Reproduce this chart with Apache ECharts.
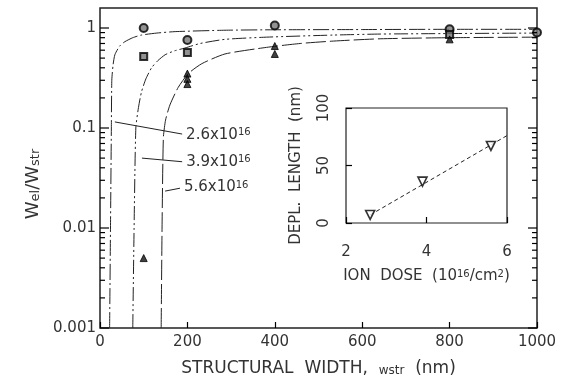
<!DOCTYPE html>
<html lang="en">
<head>
    <meta charset="UTF-8">
    <title>Wel/Wstr vs structural width</title>
    <style>
        html, body { margin: 0; padding: 0; background: #fff; }
        #main { width: 565px; height: 385px; }
    </style>
</head>
<body>
    <div id="main"></div>
    <script src="https://cdn.jsdelivr.net/npm/echarts@6/dist/echarts.min.js"></script>
    <script>
        // fitted curves, one per ion dose (structural width nm, Wel/Wstr)
        var curveLow = [[22,0.001],[24,0.01],[26,0.1],[27,0.3],[30,0.43],[34,0.54],[45,0.66],[57,0.73],[75,0.8],[95,0.85],[130,0.89],[172,0.92],[286,0.95],[400,0.96],[600,0.965],[800,0.97],[1000,0.97]];
        var curveMid = [[75,0.001],[78,0.01],[82,0.1],[88,0.16],[95,0.23],[105,0.31],[118,0.4],[132,0.47],[149,0.54],[170,0.59],[194,0.63],[229,0.7],[286,0.77],[381,0.81],[534,0.85],[641,0.87],[800,0.88],[1000,0.89]];
        var curveHigh = [[140,0.001],[142,0.01],[145,0.08],[150,0.12],[160,0.17],[179,0.255],[202,0.35],[233,0.44],[286,0.55],[381,0.64],[458,0.7],[534,0.74],[641,0.78],[800,0.8],[1000,0.81]];

        // measured points
        var dotsLow = [[100,1.0],[200,0.76],[400,1.06],[800,0.97],[1000,0.9]];
        var dotsMid = [[100,0.52],[200,0.57],[800,0.86]];
        var dotsHigh = [[100,0.005],[200,0.35],[200,0.31],[200,0.275],[400,0.66],[400,0.55],[800,0.77]];

        var doseLabels = ['2.6', '3.9', '5.6'];
        // leader lines from curve to dose label
        var leaders = [
            [[34, 0.115], [188, 0.087]],
            [[96, 0.05], [188, 0.046]],
            [[149, 0.0234], [183, 0.025]]
        ];

        var yTickLabels = { '-3': '0.001', '-2': '0.01', '-1': '0.1', '0': '1' };
        var decadeTicks = [0.001, 0.01, 0.1, 1];
        var minorFactors = [2, 3, 4, 5, 6, 7, 8, 9];
        var decades = [0.001, 0.01, 0.1];

        // inset: depletion length vs ion dose
        var doseX = [2.6, 3.9, 5.6];
        var deplLength = [7, 36, 67];
        var fitLine = [[2.6, 7], [6, 76]];

        var ink = '#222';
        var txt = '#333';

        // log ticks on both frame edges: [edge x, value, tick length]
        var logTicks = [];
        decadeTicks.forEach(function (d) {
            logTicks.push([0, d, 9]);
            logTicks.push([1000, d, 9]);
        });
        decades.forEach(function (d) {
            minorFactors.forEach(function (f) {
                logTicks.push([0, f * d, 5]);
                logTicks.push([1000, f * d, 5]);
            });
        });

        function leaderLine(i) {
            return {
                silent: true,
                symbol: ['none', 'none'],
                lineStyle: { color: ink, width: 1, type: 'solid' },
                label: {
                    show: true,
                    position: 'end',
                    distance: 4,
                    formatter: '{b|' + doseLabels[i] + 'x10}{s|16}',
                    rich: {
                        b: { fontSize: 15, color: txt, fontFamily: 'DejaVu Sans' },
                        s: { fontSize: 10, color: txt, fontFamily: 'DejaVu Sans', verticalAlign: 'top' }
                    }
                },
                data: [[{ coord: leaders[i][0] }, { coord: leaders[i][1] }]]
            };
        }

        var mychart = echarts.init(document.getElementById('main'));

        var option = {
            animation: false,
            backgroundColor: '#fff',
            textStyle: { fontFamily: 'DejaVu Sans', color: txt },
            grid: [
                { left: 100, top: 8, right: 28, bottom: 57, show: true, borderColor: ink, borderWidth: 1.5 },
                { left: 346, top: 108, width: 161, height: 115, show: true, borderColor: ink, borderWidth: 1.2, backgroundColor: '#fff' }
            ],
            xAxis: [
                {
                    gridIndex: 0, type: 'value', min: 0, max: 1000, interval: 200,
                    axisLine: { show: false },
                    axisTick: { inside: true, length: 6, lineStyle: { color: '#000', width: 1.2 } },
                    splitLine: { show: false },
                    axisLabel: { fontSize: 15, color: txt, margin: 7, formatter: function (v) { return String(v); } },
                    name: '{a|STRUCTURAL  WIDTH,  }{s|wstr}{a|  (nm)}',
                    nameLocation: 'middle', nameGap: 32,
                    nameTextStyle: {
                        rich: {
                            a: { fontSize: 17, color: txt },
                            s: { fontSize: 12, color: txt, verticalAlign: 'bottom' }
                        }
                    }
                },
                {
                    gridIndex: 1, type: 'value', min: 2, max: 6, interval: 2,
                    axisLine: { show: false },
                    axisTick: { inside: true, length: 6, lineStyle: { color: '#000', width: 1.2 } },
                    splitLine: { show: false },
                    axisLabel: { fontSize: 15, color: txt, margin: 22 },
                    name: '{a|ION  DOSE  (10}{s|16}{a|/cm}{s|2}{a|)}',
                    nameLocation: 'middle', nameGap: 46,
                    nameTextStyle: {
                        rich: {
                            a: { fontSize: 15, color: txt },
                            s: { fontSize: 10, color: txt, verticalAlign: 'top' }
                        }
                    }
                }
            ],
            yAxis: [
                {
                    gridIndex: 0, type: 'log', logBase: 10, min: 0.001, max: 1.585,
                    axisLine: { show: false },
                    axisTick: { show: false },
                    splitLine: { show: false },
                    axisLabel: {
                        fontSize: 15, color: txt, margin: 4,
                        formatter: function (v) {
                            var e = Math.log10(v);
                            var r = Math.round(e);
                            if (Math.abs(e - r) > 1e-6) return '';
                            return yTickLabels[String(r)] || '';
                        }
                    },
                    name: '{a|W}{s|el}{a|/W}{s|str}',
                    nameLocation: 'middle', nameGap: 58, nameRotate: 90,
                    nameTextStyle: {
                        padding: [0, 32, 0, 0],
                        rich: {
                            a: { fontSize: 18, color: txt },
                            s: { fontSize: 13, color: txt, verticalAlign: 'bottom' }
                        }
                    }
                },
                {
                    gridIndex: 1, type: 'value', min: 0, max: 100, interval: 50,
                    axisLine: { show: false },
                    axisTick: { inside: true, length: 6, lineStyle: { color: '#000', width: 1.2 } },
                    splitLine: { show: false },
                    axisLabel: { fontSize: 15, color: txt, rotate: 90, margin: 14 },
                    name: 'DEPL.  LENGTH  (nm)',
                    nameLocation: 'middle', nameGap: 42, nameRotate: 90,
                    nameTextStyle: { fontSize: 15, color: txt }
                }
            ],
            series: [
                {
                    type: 'line', data: curveLow, showSymbol: false, smooth: 0.2,
                    lineStyle: { color: ink, width: 1, type: [16, 3, 2, 3] },
                    markLine: leaderLine(0)
                },
                {
                    type: 'line', data: curveMid, showSymbol: false, smooth: 0.2,
                    lineStyle: { color: ink, width: 1, type: [14, 3, 2, 3, 2, 3] },
                    markLine: leaderLine(1)
                },
                {
                    type: 'line', data: curveHigh, showSymbol: false, smooth: 0.2,
                    lineStyle: { color: ink, width: 1, type: [20, 4] },
                    markLine: leaderLine(2)
                },
                {
                    type: 'scatter', data: dotsLow, symbol: 'circle', symbolSize: 8,
                    itemStyle: { color: '#777', borderColor: '#000', borderWidth: 2 }, z: 5
                },
                {
                    type: 'scatter', data: dotsMid, symbol: 'rect', symbolSize: 7,
                    itemStyle: { color: '#777', borderColor: '#000', borderWidth: 2 }, z: 5
                },
                {
                    type: 'scatter', data: dotsHigh, symbol: 'triangle', symbolSize: 7,
                    itemStyle: { color: '#111', borderColor: '#000', borderWidth: 1 }, z: 5
                },
                {
                    // inward log ticks on left and right frame edges
                    type: 'custom', data: logTicks, silent: true, z: 6,
                    renderItem: function (params, api) {
                        var p = api.coord([api.value(0), api.value(1)]);
                        var dir = api.value(0) === 0 ? 1 : -1;
                        return {
                            type: 'line',
                            shape: { x1: p[0], y1: p[1], x2: p[0] + dir * api.value(2), y2: p[1] },
                            style: { stroke: '#000', lineWidth: 1.2 }
                        };
                    }
                },
                {
                    type: 'line', xAxisIndex: 1, yAxisIndex: 1, data: fitLine, showSymbol: false,
                    lineStyle: { color: ink, width: 1, type: [4, 3] }
                },
                {
                    type: 'scatter', xAxisIndex: 1, yAxisIndex: 1,
                    data: doseX.map(function (d, i) { return [d, deplLength[i]]; }),
                    symbol: 'triangle', symbolRotate: 180, symbolSize: 9,
                    itemStyle: { color: '#fff', borderColor: '#000', borderWidth: 1.6 }, z: 5
                }
            ]
        };
        option && mychart.setOption(option);
    </script>
</body>
</html>
